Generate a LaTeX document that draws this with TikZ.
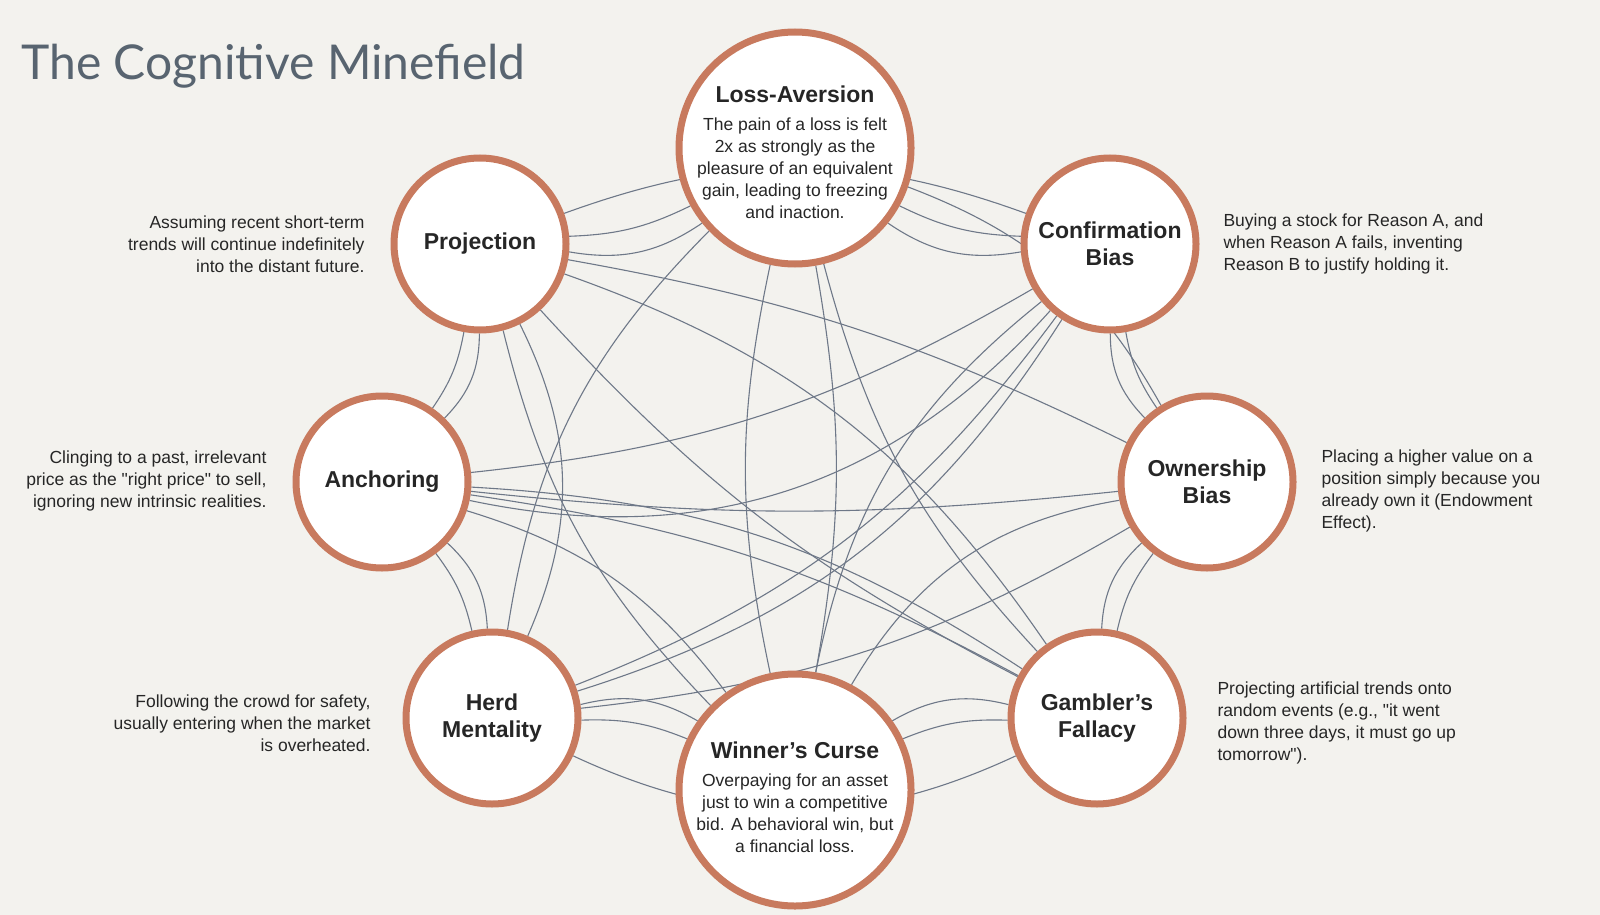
\documentclass[tikz,border=0pt]{standalone}
\usepackage{fontspec}
\setmainfont{Liberation Sans}
\newfontfamily\titlefont{Lato}
\usetikzlibrary{backgrounds}
\definecolor{ring}{RGB}{200,122,94}
\definecolor{paper}{RGB}{243,242,238}
\definecolor{wire}{RGB}{110,120,136}
\definecolor{titlegray}{RGB}{88,100,112}
\tikzset{
  bias/.style={circle,draw=ring,line width=7pt,fill=white,minimum size=172pt,inner sep=0pt},
  bigbias/.style={bias,minimum size=232pt},
  biasname/.style={font=\fontsize{23}{27}\selectfont\bfseries,align=center,text=black!85},
  biasdesc/.style={font=\fontsize{17.5}{22}\selectfont,text=black!85},
  wires/.style={draw=wire,line width=1.1pt}
}
\begin{document}
\begin{tikzpicture}[x=1pt,y=1pt,yscale=-1]
	\useasboundingbox (0,0) rectangle (1600,915);
	
	% circles
	\node [bigbias] (loss) at (795,148) {};
	\node [bias] (proj) at (480,244) {};
	\node [bias] (conf) at (1110,244) {};
	\node [bias] (anch) at (382,482) {};
	\node [bias] (own) at (1207,482) {};
	\node [bias] (herd) at (492,718) {};
	\node [bias] (gamb) at (1097,718) {};
	\node [bigbias] (win) at (795,790) {};
	
	% connectors
	\begin{scope}[on background layer]
	\fill [paper] (0,0) rectangle (1600,915);
	% outer ring
	\foreach \a/\b in {loss/proj,proj/anch,anch/herd,herd/win,win/gamb,gamb/own,own/conf,conf/loss} {
		\draw [wires] (\a) to [bend right=12] (\b);
		\draw [wires] (\a) to [bend right=22] (\b);
	}
	% cross links
	\foreach \a/\b/\t in {proj/gamb/10,proj/own/-8,proj/win/15,proj/conf/-20,anch/conf/12,anch/own/6,anch/gamb/-10,
		loss/herd/18,loss/win/-10,loss/gamb/14,conf/herd/-16,conf/win/20,own/herd/-12,herd/gamb/25,win/anch/18,
		loss/own/-20,gamb/anch/15,proj/herd/-25,conf/anch/-30,win/own/-25,loss/win/12,proj/gamb/-18,herd/conf/20}{
		\draw [wires] (\a) to [bend left=\t] (\b);
	}
	\end{scope}
	
	% title
	\node [anchor=west,font=\titlefont\fontsize{48}{54}\selectfont,text=titlegray] (title) at (18,66) {The Cognitive Minefield};
	
	% circle texts
	\node [biasname] (lossname) at (795,94) {Loss-Aversion};
	\node [biasdesc,align=center,anchor=north] (lossdesc) at (795,114) {The pain of a loss is felt\\2x as strongly as the\\pleasure of an equivalent\\gain, leading to freezing\\and inaction.};
	\node [biasname] (projname) at (proj) {Projection};
	\node [biasname] (confname) at (conf) {Confirmation\\Bias};
	\node [biasname] (anchname) at (anch) {Anchoring};
	\node [biasname] (ownname) at (own) {Ownership\\Bias};
	\node [biasname] (herdname) at (herd) {Herd\\Mentality};
	\node [biasname] (gambname) at (gamb) {Gambler's\\Fallacy};
	\node [biasname] (winname) at (795,750) {Winner's Curse};
	\node [biasdesc,align=center,anchor=north] (windesc) at (795,770) {Overpaying for an asset\\just to win a competitive\\bid. A behavioral win, but\\a financial loss.};
	
	% side texts
	\node [biasdesc,align=right,anchor=east] (projdesc) at (368,244) {Assuming recent short-term\\trends will continue indefinitely\\into the distant future.};
	\node [biasdesc,align=left,anchor=west] (confdesc) at (1220,244) {Buying a stock for Reason A, and\\when Reason A fails, inventing\\Reason B to justify holding it.};
	\node [biasdesc,align=right,anchor=east] (anchdesc) at (270,481) {Clinging to a past, irrelevant\\price as the \textquotedbl right price\textquotedbl{} to sell,\\ignoring new intrinsic realities.};
	\node [biasdesc,align=left,anchor=west] (owndesc) at (1318,491) {Placing a higher value on a\\position simply because you\\already own it (Endowment\\Effect).};
	\node [biasdesc,align=right,anchor=east] (herddesc) at (374,723) {Following the crowd for safety,\\usually entering when the market\\is overheated.};
	\node [biasdesc,align=left,anchor=west] (gambdesc) at (1214,723) {Projecting artificial trends onto\\random events (e.g., \textquotedbl it went\\down three days, it must go up\\tomorrow\textquotedbl).};
\end{tikzpicture}
\end{document}
